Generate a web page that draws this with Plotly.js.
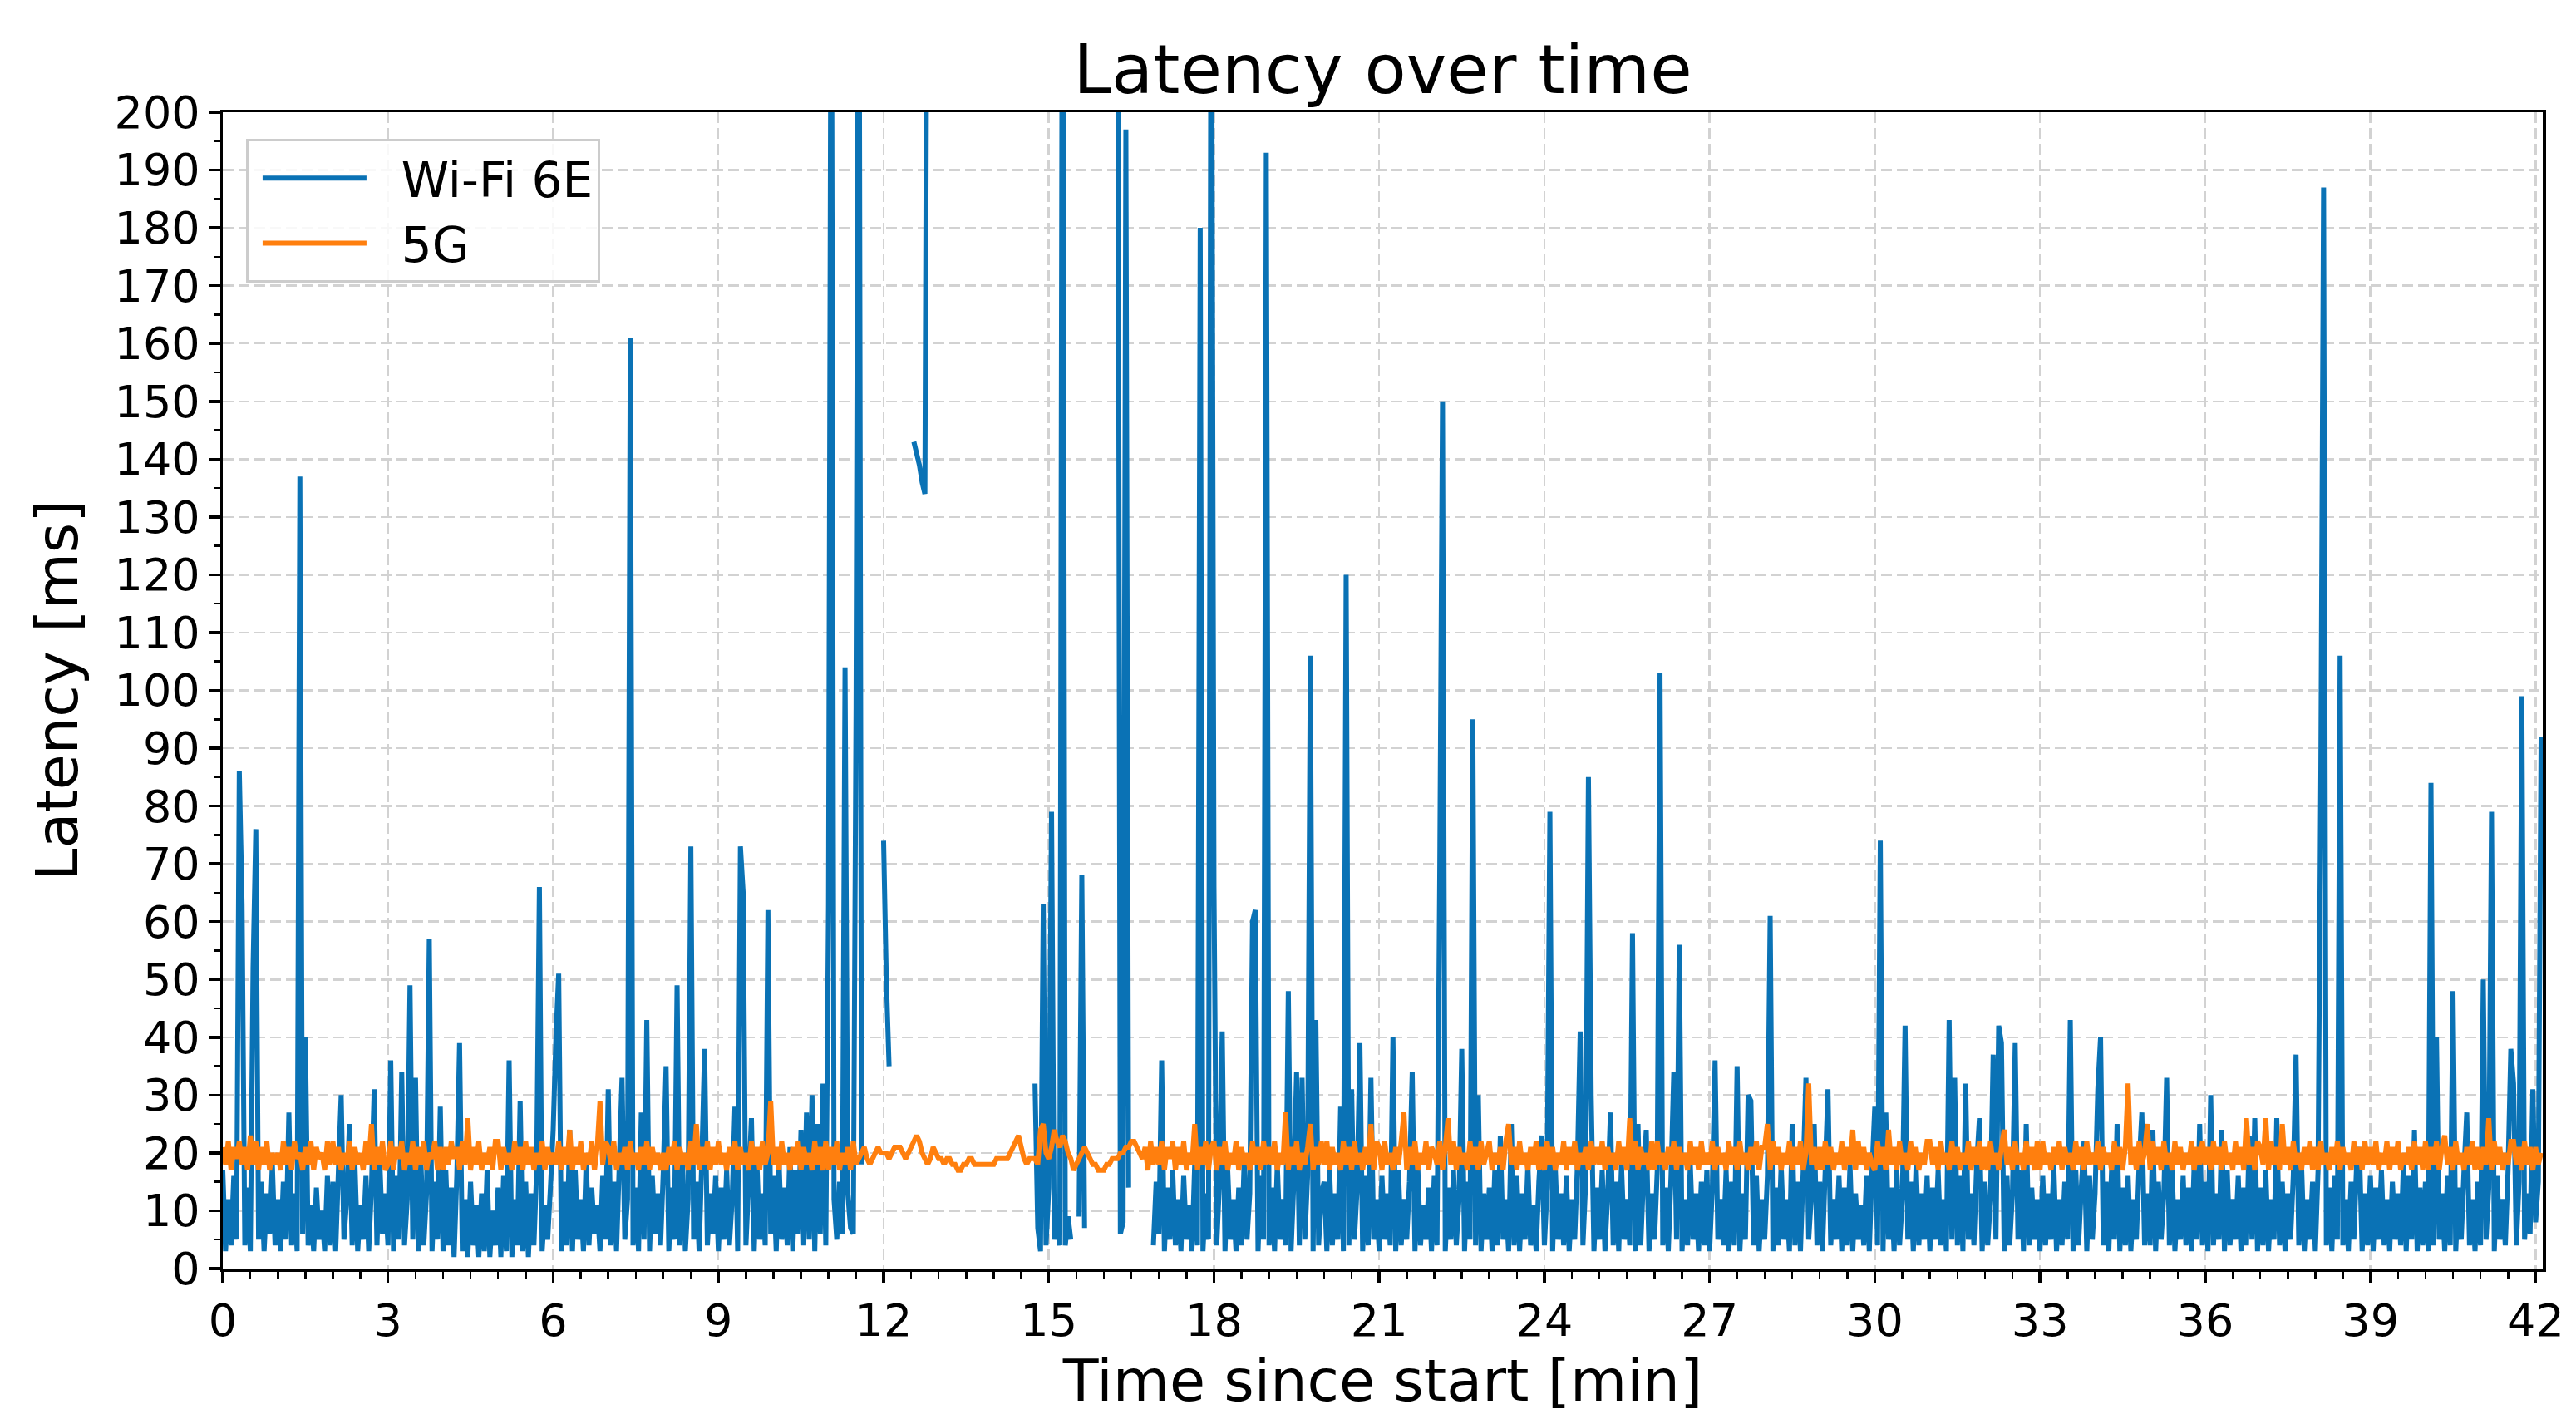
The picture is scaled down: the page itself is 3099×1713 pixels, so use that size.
<!DOCTYPE html>
<html>
<head>
<meta charset="utf-8">
<script src="https://cdn.plot.ly/plotly-3.0.1.min.js"></script>
<style>html,body{margin:0;padding:0;background:#fff;}#chart{width:3099px;height:1713px;}</style>
</head>
<body>
<div id="chart"></div>
<script>
// Sampling: both series every 0.05 min, starting at t = 0 min
const wifiStart = 0, wifiStep = 0.05;
const fiveGStart = 0, fiveGStep = 0.05;

// Wi-Fi 6E latency [ms], one row per minute (20 samples); null = no sample
const wifiLatency = [
  17,3,12,4,16,5,86,63,4,14,3,52,76,5,15,3,13,6,18,4,
  12,3,15,5,27,4,13,3,137,6,40,4,11,3,14,5,10,3,16,4,
  15,3,17,30,5,12,25,4,18,3,11,5,16,3,14,31,4,19,6,13,
  4,36,3,16,5,34,4,12,49,5,33,3,18,4,13,57,3,15,5,28,
  3,17,4,14,2,16,39,3,12,2,15,4,11,2,13,3,17,2,10,4,
  14,2,16,3,36,2,12,4,29,3,15,2,13,4,17,66,3,11,5,14,
  24,40,51,3,15,4,24,3,17,5,12,3,19,4,14,6,11,3,16,5,
  31,4,15,3,18,33,5,12,161,4,14,3,27,5,43,3,16,6,13,4,
  17,35,3,14,5,49,4,18,3,12,73,5,15,3,19,38,4,13,6,16,
  3,14,5,17,4,12,28,3,73,65,4,15,26,3,18,5,13,4,62,6,
  16,3,19,5,14,4,21,3,17,6,24,4,27,5,30,3,25,6,32,4,
  63,250,12,5,15,6,104,13,7,6,97,260,18,null,null,null,null,null,null,null,
  74,50,35,null,null,null,null,null,null,null,null,143,141,139,136,134,260,null,null,null,
  null,null,null,null,null,null,null,null,null,null,null,null,null,null,null,null,null,null,null,null,
  null,null,null,null,null,null,null,null,null,null,null,null,null,null,null,32,7,3,63,4,
  14,79,5,11,4,260,4,9,5,null,null,9,68,7,null,null,null,null,null,null,
  null,null,null,null,null,260,6,8,197,14,null,null,null,null,null,null,null,null,4,15,
  6,36,3,14,5,17,4,12,3,16,5,11,3,18,4,180,3,13,5,250,
  66,4,15,41,3,17,5,12,3,14,4,19,5,13,60,62,3,16,5,193,
  4,14,3,18,5,12,4,48,3,15,34,4,33,5,16,106,3,43,4,13,
  15,3,17,4,13,5,28,3,120,4,31,5,14,39,3,16,4,33,5,12,
  3,16,5,13,4,40,3,17,4,12,5,15,34,3,18,4,11,5,14,3,
  16,4,69,150,3,14,5,17,4,12,38,3,15,5,95,4,30,3,13,5,
  14,3,17,4,23,5,12,3,25,4,16,3,13,5,18,4,11,3,15,23,
  4,14,79,3,17,5,13,4,16,3,12,5,18,41,4,15,85,30,3,14,
  5,17,3,13,27,4,15,3,18,5,12,4,58,3,25,4,16,24,3,13,
  5,17,103,4,14,3,16,34,5,56,3,12,4,18,5,13,3,15,4,17,
  3,14,36,5,12,4,17,3,15,4,35,3,13,5,30,29,4,16,3,12,
  5,16,61,3,14,4,18,5,12,3,25,4,15,3,17,33,5,13,25,4,
  15,3,17,31,4,12,5,16,3,14,4,18,3,13,5,11,4,16,3,17,
  28,4,74,3,27,5,14,3,17,4,12,42,5,15,3,18,4,13,5,16,
  3,14,5,17,4,12,3,43,5,33,4,16,3,32,5,13,4,18,26,3,
  15,4,12,37,5,42,39,3,16,4,13,39,5,17,3,25,4,14,5,12,
  3,16,4,13,5,18,3,12,4,15,5,43,3,17,4,14,22,3,16,5,
  13,31,40,4,15,3,17,5,25,3,14,4,16,3,12,5,18,27,4,13,
  4,24,3,15,5,13,33,4,17,3,12,5,16,4,14,3,18,5,25,4,
  15,3,30,4,13,5,24,3,17,4,12,5,16,3,14,4,23,5,26,3,
  14,4,17,3,12,5,26,4,15,3,13,5,16,37,4,18,3,12,5,15,
  3,17,86,187,4,14,3,16,5,106,4,12,3,15,5,18,21,3,13,4,
  16,3,14,5,17,4,12,3,15,5,13,4,18,3,16,5,24,3,14,4,
  15,3,84,4,40,5,13,3,16,4,48,3,14,5,17,27,4,12,3,15,
  4,50,5,14,79,3,16,5,12,4,17,38,32,4,15,99,5,13,6,31,
  8,15,92
];

// 5G latency [ms], one row per minute (20 samples)
const fiveGLatency = [
  21,18,22,17,21,19,22,18,21,17,23,18,22,17,21,18,22,17,20,18,
  20,17,22,18,21,17,22,19,20,17,21,18,22,17,21,19,20,17,22,18,
  22,18,21,17,20,18,22,17,21,18,20,17,22,18,25,17,21,18,22,17,
  18,22,17,21,19,22,17,20,18,22,17,21,18,22,17,20,19,22,17,21,
  17,21,18,22,19,21,17,22,18,26,17,21,18,22,17,20,18,21,17,22,
  22,17,21,18,20,17,22,18,21,17,22,18,21,17,20,18,22,17,21,18,
  20,18,22,17,21,18,24,17,21,18,22,17,20,18,22,17,21,29,18,22,
  21,18,22,17,20,18,21,17,22,18,20,17,21,18,22,17,21,18,20,17,
  20,17,21,18,22,17,21,18,20,17,22,18,25,17,21,18,22,17,21,18,
  22,18,20,17,21,18,22,17,21,18,20,17,22,18,21,17,22,18,20,29,
  18,21,17,22,18,20,17,21,18,22,17,21,18,20,17,22,18,21,17,22,
  17,21,18,22,17,20,18,21,17,22,18,19,20,21,19,18,19,20,21,20,
  20,20,19,20,21,21,21,20,19,20,21,22,23,22,20,19,18,19,21,20,
  19,19,18,19,19,18,18,17,17,18,18,19,19,18,18,18,18,18,18,18,
  18,19,19,19,19,19,20,21,22,23,21,19,18,19,19,19,18,24,25,20,
  19,21,24,22,21,23,22,20,19,17,18,19,20,21,20,19,18,18,17,17,
  17,18,18,19,19,19,20,20,21,21,22,22,21,20,19,21,17,22,18,21,
  18,22,17,21,19,22,17,21,18,22,17,20,18,25,17,21,18,22,17,21,
  22,17,21,18,22,17,20,18,22,17,21,18,20,17,22,18,21,17,22,18,
  21,18,22,17,20,18,27,17,21,18,22,17,20,18,21,25,17,21,18,22,
  18,22,17,21,18,20,17,22,18,21,17,22,18,20,17,21,18,25,17,22,
  21,17,22,18,20,17,21,18,22,27,17,21,18,22,17,20,18,22,17,21,
  20,18,22,17,21,26,18,22,17,21,18,20,17,22,18,21,17,22,18,20,
  22,17,20,18,21,17,22,25,18,21,17,22,18,20,17,21,18,22,17,21,
  17,22,18,21,17,20,18,22,17,21,18,22,17,20,18,21,17,22,18,21,
  18,22,17,21,18,20,17,22,18,21,17,26,18,22,17,21,18,20,17,22,
  17,22,18,20,17,21,18,22,17,21,18,20,17,22,18,21,17,22,18,20,
  18,22,17,21,18,20,17,22,18,21,17,22,18,20,17,21,18,22,17,21,
  21,25,17,22,18,21,17,20,18,22,17,21,18,22,17,20,32,18,21,17,
  21,17,22,18,21,17,20,18,22,17,21,18,24,17,22,18,21,17,20,18,
  17,22,18,21,17,24,18,21,17,22,18,20,17,22,18,21,17,20,18,22,
  22,18,21,17,22,18,20,17,22,18,21,17,20,18,22,17,21,18,22,17,
  21,17,22,18,20,17,21,24,18,21,17,22,18,20,17,22,18,21,17,22,
  17,22,18,20,17,21,18,22,17,21,18,20,17,22,18,21,17,22,18,20,
  18,22,17,21,18,20,17,22,18,21,17,21,32,18,21,17,22,18,20,25,
  17,22,18,21,17,22,18,20,17,22,18,21,17,20,18,22,17,21,18,22,
  18,21,17,22,18,21,17,22,18,20,17,22,18,21,17,26,18,21,17,22,
  21,18,26,17,22,18,21,17,25,18,21,17,22,18,20,17,21,18,22,17,
  21,17,22,18,20,17,21,18,22,17,21,18,20,17,22,18,21,17,22,18,
  21,18,22,17,20,18,22,17,21,18,22,17,20,18,21,17,22,18,21,17,
  22,17,21,18,22,17,21,23,18,21,17,22,18,20,17,21,18,22,17,21,
  17,21,18,26,17,22,18,21,17,20,18,22,22,18,21,17,22,18,21,17,
  21,18,20
];

const seriesNames = ['Wi-Fi 6E', '5G'];
const xTickValues = [0,3,6,9,12,15,18,21,24,27,30,33,36,39,42];
const yTickValues = [0,10,20,30,40,50,60,70,80,90,100,110,120,130,140,150,160,170,180,190,200];

const FONT = 'DejaVu Sans, Liberation Sans, sans-serif';
const BLUE = '#0a72b5', ORANGE = '#ff7f0e';
const NB = '\u00a0\u00a0';

const traces = [
  {type:'scatter', mode:'lines', name:NB + seriesNames[0], x0:wifiStart, dx:wifiStep, y:wifiLatency,
   line:{color:BLUE, width:6, simplify:false}, connectgaps:false},
  {type:'scatter', mode:'lines', name:NB + seriesNames[1], x0:fiveGStart, dx:fiveGStep, y:fiveGLatency,
   line:{color:ORANGE, width:6, simplify:false}}
];

const axisCommon = {
  showline:true, linecolor:'#000', linewidth:3.5, mirror:true,
  ticks:'outside', ticklen:13, tickwidth:3.5, tickcolor:'#000',
  showgrid:true, gridcolor:'#d2d2d2', gridwidth:2.5, griddash:'13px,6px',
  zeroline:false, automargin:false,
  tickfont:{family:FONT, size:54, color:'#000'}
};

const layout = {
  width:3099, height:1713,
  paper_bgcolor:'#fff', plot_bgcolor:'#fff',
  font:{family:FONT, color:'#000'},
  margin:{l:268, r:40, t:135, b:187, pad:0},
  showlegend:true,
  title:{text:'Latency over time', font:{family:FONT, size:82, color:'#000'},
         xref:'paper', x:0.5, xanchor:'center', yref:'container', y:1-83/1713, yanchor:'middle'},
  xaxis:Object.assign({}, axisCommon, {
    range:[0, 42.13], tickmode:'array', tickvals:xTickValues, ticktext:xTickValues.map(String),
    minor:{dtick:0.5, tick0:0, ticks:'outside', ticklen:8, tickwidth:2.5, tickcolor:'#000', showgrid:false},
    title:{text:'Time since start [min]', font:{family:FONT, size:70, color:'#000'}, standoff:6}
  }),
  yaxis:Object.assign({}, axisCommon, {
    range:[0, 200], tickmode:'array', tickvals:yTickValues, ticktext:yTickValues.map(String),
    minor:{dtick:5, tick0:0, ticks:'outside', ticklen:8, tickwidth:2.5, tickcolor:'#000', showgrid:false},
    title:{text:'Latency [ms]', font:{family:FONT, size:70, color:'#000'}, standoff:22}
  }),
  legend:{x:0.01, y:0.977, xanchor:'left', yanchor:'top', indentation:12,
          bgcolor:'rgba(255,255,255,0.85)', bordercolor:'#cccccc', borderwidth:3,
          font:{family:FONT, size:58, color:'#000'}, itemwidth:125, tracegroupgap:0}
};

Plotly.newPlot('chart', traces, layout, {staticPlot:true, displayModeBar:false});
</script>
</body>
</html>
